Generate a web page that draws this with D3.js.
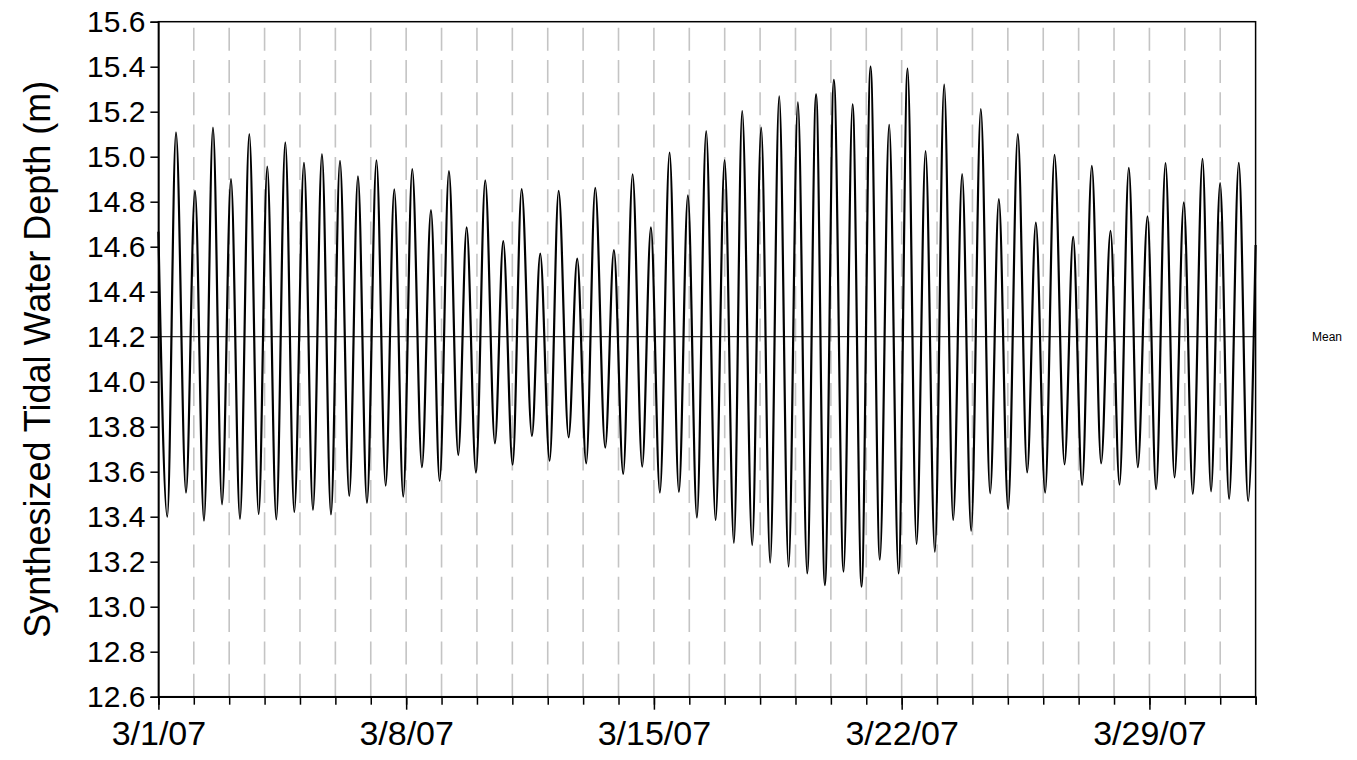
<!DOCTYPE html>
<html>
<head>
<meta charset="utf-8">
<script src="https://cdn.jsdelivr.net/npm/d3@7"></script>
<style>
  html, body { margin: 0; padding: 0; background: #ffffff; }
  svg { display: block; }
  text { font-family: "Liberation Sans", Arial, sans-serif; fill: #000; }
</style>
</head>
<body>
<svg id="chart" width="1357" height="760"></svg>
<script>
// ---------------- DATA ----------------
const startDate = new Date(2007, 2, 1);   // 3/1/07
const endDate   = new Date(2007, 3, 1);   // 4/1/07

// High-water times (days after 3/1/07 00:00) and depths (m)
const highDays = [0.497, 1.034, 1.542, 2.051, 2.568, 3.076, 3.585, 4.113, 4.621, 5.130,
  5.638, 6.161, 6.664, 7.172, 7.701, 8.209, 8.709, 9.234, 9.743, 10.263,
  10.788, 11.308, 11.833, 12.342, 12.870, 13.398, 13.915, 14.443, 14.960, 15.477,
  15.997, 16.494, 17.031, 17.540, 18.068, 18.582, 19.085, 19.613, 20.121, 20.647,
  21.167, 21.675, 22.201, 22.709, 23.237, 23.746, 24.282, 24.791, 25.319, 25.845,
  26.373, 26.901, 27.418, 27.946, 28.455, 28.972, 29.500, 29.997, 30.525];
const highDepths = [15.108, 14.848, 15.129, 14.900, 15.100, 14.956, 15.064, 14.973, 15.012, 14.982,
  14.913, 14.984, 14.855, 14.945, 14.763, 14.936, 14.686, 14.895, 14.625, 14.856,
  14.569, 14.848, 14.547, 14.862, 14.585, 14.922, 14.686, 15.018, 14.828, 15.114,
  14.985, 15.203, 15.129, 15.268, 15.242, 15.277, 15.342, 15.233, 15.400, 15.142,
  15.391, 15.025, 15.320, 14.923, 15.212, 14.811, 15.100, 14.707, 15.008, 14.644,
  14.959, 14.670, 14.950, 14.735, 14.971, 14.797, 14.990, 14.883, 14.973];

// Low-water times (days after 3/1/07 00:00) and depths (m)
const lowDays = [0.251, 0.780, 1.288, 1.797, 2.305, 2.833, 3.331, 3.839, 4.367, 4.876,
  5.393, 5.893, 6.421, 6.918, 7.446, 7.946, 8.472, 8.972, 9.508, 10.008,
  10.554, 11.054, 11.590, 12.088, 12.624, 13.133, 13.669, 14.169, 14.706, 15.215,
  15.743, 16.260, 16.777, 17.285, 17.805, 18.331, 18.831, 19.359, 19.867, 20.384,
  20.912, 21.421, 21.938, 22.455, 22.963, 23.500, 24.008, 24.545, 25.054, 25.602,
  26.099, 26.636, 27.155, 27.672, 28.189, 28.709, 29.226, 29.740, 30.251, 30.788];
const lowDepths = [13.400, 13.507, 13.382, 13.455, 13.390, 13.412, 13.388, 13.421, 13.430, 13.410,
  13.492, 13.461, 13.538, 13.489, 13.620, 13.559, 13.674, 13.596, 13.726, 13.631,
  13.759, 13.649, 13.753, 13.637, 13.707, 13.590, 13.622, 13.507, 13.510, 13.396,
  13.385, 13.284, 13.274, 13.196, 13.178, 13.148, 13.096, 13.156, 13.089, 13.209,
  13.148, 13.279, 13.244, 13.385, 13.338, 13.504, 13.434, 13.597, 13.507, 13.633,
  13.541, 13.637, 13.542, 13.620, 13.522, 13.575, 13.501, 13.513, 13.479, 13.470];

// Depth at the start and end of the record
const edgeDays = [0, 31];
const edgeDepths = [14.667, 14.608];

const meanDepth = 14.2;
const meanLabel = "Mean";
const yTickValues = [12.6, 12.8, 13.0, 13.2, 13.4, 13.6, 13.8, 14.0, 14.2, 14.4, 14.6, 14.8, 15.0, 15.2, 15.4, 15.6];
const yTitle = "Synthesized Tidal Water Depth (m)";
const labelEveryDays = 7;

// ---------------- CHART ----------------
const svg = d3.select("#chart");
const m = { left: 158.4, right: 1255.6, top: 21.7, bottom: 696.7 };

const x = d3.scaleTime().domain([startDate, endDate]).range([m.left, m.right]);
const y = d3.scaleLinear().domain([12.6, 15.6]).range([m.bottom, m.top]);

const dayMs = 864e5;
const toDate = d => new Date(startDate.getTime() + d * dayMs);

const points = []
  .concat(edgeDays.map((d, i) => ({ t: d, v: edgeDepths[i] })))
  .concat(highDays.map((d, i) => ({ t: d, v: highDepths[i] })))
  .concat(lowDays.map((d, i) => ({ t: d, v: lowDepths[i] })))
  .sort((a, b) => a.t - b.t)
  .map(p => ({ date: toDate(p.t), v: p.v }));

svg.append("rect").attr("width", 1357).attr("height", 760).attr("fill", "#fff");

// daily dashed gridlines
const allDays = d3.timeDay.range(startDate, d3.timeDay.offset(endDate, 1));
const gridDays = allDays.filter(d => d > startDate && d < endDate);
svg.append("g")
  .selectAll("line")
  .data(gridDays)
  .join("line")
  .attr("x1", d => x(d)).attr("x2", d => x(d))
  .attr("y1", m.bottom).attr("y2", m.top)
  .attr("stroke", "#c4c4c4")
  .attr("stroke-width", 1.6)
  .attr("stroke-dasharray", "23,9.3");

// mean line
svg.append("line")
  .attr("x1", m.left).attr("x2", m.right)
  .attr("y1", y(meanDepth)).attr("y2", y(meanDepth))
  .attr("stroke", "#333")
  .attr("stroke-width", 1.3);

svg.append("text")
  .attr("x", 1312).attr("y", y(meanDepth) + 4)
  .attr("font-size", 12)
  .text(meanLabel);

// tidal curve
const line = d3.line()
  .x(d => x(d.date))
  .y(d => y(d.v))
  .curve(d3.curveMonotoneX);

svg.append("path")
  .datum(points)
  .attr("d", line)
  .attr("fill", "none")
  .attr("stroke", "#000")
  .attr("stroke-width", 2.2)
  .attr("stroke-linejoin", "round");

// plot frame
svg.append("rect")
  .attr("x", m.left).attr("y", m.top)
  .attr("width", m.right - m.left).attr("height", m.bottom - m.top)
  .attr("fill", "none").attr("stroke", "#000").attr("stroke-width", 1.5);

// y axis
const yAxis = d3.axisLeft(y).tickValues(yTickValues).tickFormat(d3.format(".1f")).tickSize(8).tickPadding(5);
const gy = svg.append("g").attr("transform", `translate(${m.left},0)`).call(yAxis);
gy.select(".domain").attr("stroke", "#000").attr("stroke-width", 1.5);
gy.selectAll(".tick line").attr("stroke", "#000").attr("stroke-width", 1.5);
gy.selectAll(".tick text").attr("font-size", 30).attr("font-family", "Liberation Sans, Arial, sans-serif").attr("fill", "#000");

// x axis: daily minor ticks, weekly labelled ticks
const xMinor = d3.axisBottom(x).tickValues(allDays).tickSize(8).tickFormat("");
const gxm = svg.append("g").attr("transform", `translate(0,${m.bottom})`).call(xMinor);
gxm.select(".domain").attr("stroke", "#000").attr("stroke-width", 1.5);
gxm.selectAll(".tick line").attr("stroke", "#000").attr("stroke-width", 1.5);

const labelDays = allDays.filter((d, i) => i % labelEveryDays === 0 && d < endDate);
const fmt = d3.timeFormat("%-m/%-d/%y");
const xMajor = d3.axisBottom(x).tickValues(labelDays).tickSize(13).tickPadding(11).tickFormat(fmt);
const gx = svg.append("g").attr("transform", `translate(0,${m.bottom})`).call(xMajor);
gx.select(".domain").remove();
gx.selectAll(".tick line").attr("stroke", "#000").attr("stroke-width", 1.5);
gx.selectAll(".tick text")
  .attr("font-size", 34).attr("font-family", "Liberation Sans, Arial, sans-serif").attr("fill", "#000");

// y title
svg.append("text")
  .attr("transform", `translate(50,${(m.top + m.bottom) / 2}) rotate(-90)`)
  .attr("text-anchor", "middle")
  .attr("font-size", 36)
  .text(yTitle);
</script>
</body>
</html>
